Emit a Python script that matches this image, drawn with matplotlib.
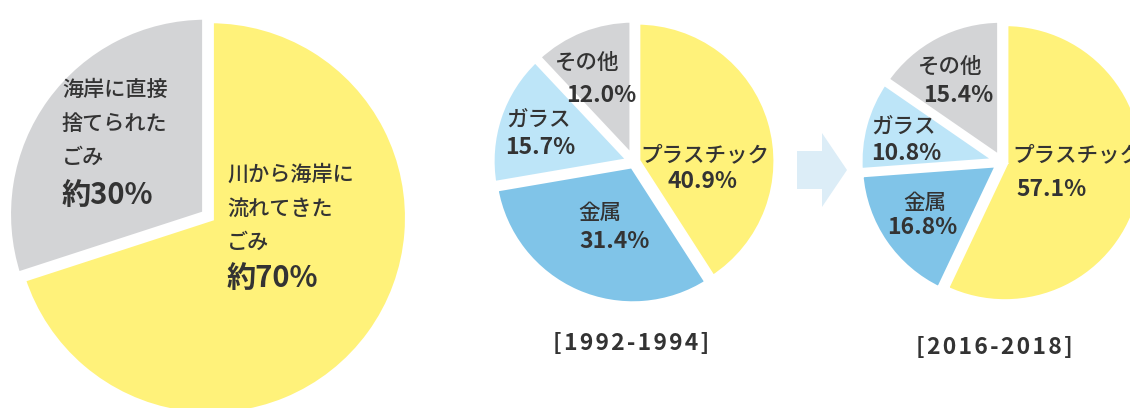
import matplotlib
matplotlib.use("Agg")
import matplotlib.pyplot as plt
import matplotlib.patches as mp

plt.rcParams['font.family'] = ['Noto Sans CJK JP', 'DejaVu Sans']

#Data
left_labels = ['川から海岸に\n流れてきた\nごみ', '海岸に直接\n捨てられた\nごみ']
left_values = [70, 30]
left_pct = ['約70%', '約30%']

kinds = ['プラスチック', '金属', 'ガラス', 'その他']
v_1992 = [40.9, 31.4, 15.7, 12.0]
v_2016 = [57.1, 16.8, 10.8, 15.4]
periods = ['[1992-1994]', '[2016-2018]']

yellow = '#fff27a'
gray = '#d3d4d6'
lblue = '#bde5f8'
mblue = '#80c4e8'
txt = '#333333'

H = 408
fig = plt.figure(figsize=(11.3, 4.08), dpi=100)
ax = fig.add_axes([0, 0, 1, 1])

wp = dict(edgecolor='white', linewidth=5)

#Left pie
ax.pie(left_values, colors=[yellow, gray], startangle=90, counterclock=False,
       center=(208, H - 216), radius=198, explode=[3, 3], wedgeprops=wp, frame=True)

#Middle and right pies
cols = [yellow, mblue, lblue, gray]
ax.pie(v_1992, colors=cols, startangle=90, counterclock=False,
       center=(634, H - 162), radius=140, explode=[3, 3, 3, 3], wedgeprops=wp, frame=True)
ax.pie(v_2016, colors=cols, startangle=90, counterclock=False,
       center=(1002, H - 162), radius=140, explode=[3, 3, 3, 3], wedgeprops=wp, frame=True)
ax.set_xlim(0, 1130)
ax.set_ylim(0, H)
ax.set_aspect('equal')
ax.axis('off')

#Arrow between pies
ax.add_patch(mp.FancyArrow(797, H - 170, 50, 0, width=38, head_width=74, head_length=25,
                           length_includes_head=True, color='#dcedf7', lw=0))

def t(x, y, s, size=15.5, bold=False, ha='center', ls=1.4):
    ax.text(x, H - y, s, fontsize=size, fontweight='bold' if bold else 'medium', color=txt,
            ha=ha, va='center', linespacing=ls)

#Left pie labels
t(62, 124, left_labels[1], 15.2, ha='left', ls=1.72)
t(62, 195, left_pct[1], 21, True, ha='left')
t(227, 209, left_labels[0], 15.2, ha='left', ls=1.72)
t(227, 278, left_pct[0], 21, True, ha='left')

#Middle pie labels
t(705, 155, kinds[0]); t(702, 182, f'{v_1992[0]}%', 16.5, True)
t(600, 213, kinds[1]); t(615, 242, f'{v_1992[1]}%', 16.5, True)
t(506, 120, kinds[2], ha='left'); t(505, 147, f'{v_1992[2]}%', 16.5, True, ha='left')
t(587, 63, kinds[3]); t(601, 95, f'{v_1992[3]:.1f}%', 16.5, True)

#Right pie labels
t(1012, 155, kinds[0], ha='left'); t(1052, 190, f'{v_2016[0]}%', 16.5, True)
t(925, 203, kinds[1]); t(922, 228, f'{v_2016[1]}%', 16.5, True)
t(871, 127, kinds[2], ha='left'); t(871, 153, f'{v_2016[2]}%', 16.5, True, ha='left')
t(950, 67, kinds[3]); t(958, 95, f'{v_2016[3]}%', 16.5, True)

#Period labels, letter spaced with hair spaces
for (x, y), p in zip([(631, 343), (994, 347)], periods):
    t(x, y, '\u200a'.join(p), 16.5, True)

fig.savefig('out.png', dpi=100, facecolor='white')
